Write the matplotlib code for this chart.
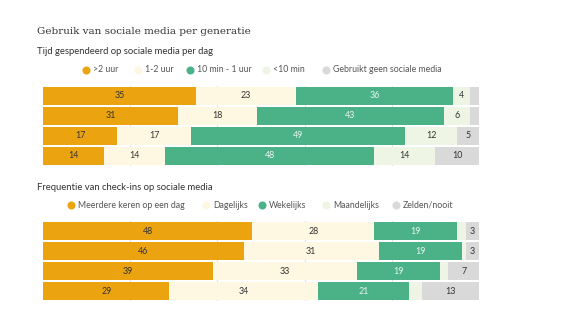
import matplotlib
matplotlib.use("Agg")
import matplotlib.pyplot as plt
from matplotlib.lines import Line2D
import numpy as np

# Time spent on social media per day (rows top -> bottom)
time_labels = [">2 uur", "1-2 uur", "10 min - 1 uur", "<10 min", "Gebruikt geen sociale media"]
time_values = [
    [35, 23, 36, 4, 2],
    [31, 18, 43, 6, 2],
    [17, 17, 49, 12, 5],
    [14, 14, 48, 14, 10],
]
time_shown = [
    [True, True, True, True, False],
    [True, True, True, True, False],
    [True, True, True, True, True],
    [True, True, True, True, True],
]

# Check-in frequency
freq_labels = ["Meerdere keren op een dag", "Dagelijks", "Wekelijks", "Maandelijks", "Zelden/nooit"]
freq_values = [
    [48, 28, 19, 2, 3],
    [46, 31, 19, 1, 3],
    [39, 33, 19, 2, 7],
    [29, 34, 21, 3, 13],
]
freq_shown = [
    [True, True, True, False, True],
    [True, True, True, False, True],
    [True, True, True, False, True],
    [True, True, True, False, True],
]

colors = ["#EBA40F", "#FEF7E2", "#4BB288", "#EEF5E5", "#D9D9D9"]
text_colors = ["#333333", "#333333", "#E8F5EE", "#333333", "#333333"]

plt.rcParams["font.family"] = ["Lato", "DejaVu Sans"]

W, H = 583, 328
fig = plt.figure(figsize=(W / 100, H / 100), dpi=100)


def px_axes(x0, y0, x1, y1):
    return fig.add_axes([x0 / W, 1 - y1 / H, (x1 - x0) / W, (y1 - y0) / H])


def draw_bars(ax, values, shown):
    data = np.array(values, dtype=float)
    n = data.shape[0]
    y = np.arange(n)
    left = np.zeros(n)
    for k in range(data.shape[1]):
        ax.barh(y, data[:, k], left=left, height=0.86, color=colors[k],
                edgecolor="none", zorder=2)
        for i in range(n):
            if shown[i][k]:
                ax.text(left[i] + data[i, k] / 2, y[i], f"{int(data[i, k])}",
                        ha="center", va="center", fontsize=6.4,
                        color=text_colors[k], zorder=3)
        left += data[:, k]
    ax.set_xlim(0, 100)
    ax.set_ylim(n - 0.5, -0.5)
    for gx in [20, 40, 60, 80]:
        ax.axvline(gx, color="#E3E3E3", linewidth=0.8, zorder=1)
    ax.set_xticks([])
    ax.set_yticks([])
    for s in ax.spines.values():
        s.set_visible(False)


def draw_legend(labels, xs, y):
    for lab, x, c in zip(labels, xs, colors):
        fig.add_artist(Line2D([x / W], [1 - y / H], marker="o", markersize=5.8,
                              markerfacecolor=c, markeredgecolor="none",
                              linestyle="none", transform=fig.transFigure))
        fig.text((x + 7) / W, 1 - y / H, lab, ha="left", va="center",
                 fontsize=6.3, color="#555555")


fig.text(37 / W, 1 - 31 / H, "Gebruik van sociale media per generatie",
         fontsize=7.5, family="DejaVu Serif", color="#333333", va="center")
fig.text(37 / W, 1 - 52 / H, "Tijd gespendeerd op sociale media per dag",
         fontsize=6.8, color="#333333", va="center")
draw_legend(time_labels, [86, 138, 190, 266, 326], 70)
ax1 = px_axes(43, 86, 479, 166)
draw_bars(ax1, time_values, time_shown)

fig.text(37 / W, 1 - 188 / H, "Frequentie van check-ins op sociale media",
         fontsize=6.8, color="#333333", va="center")
draw_legend(freq_labels, [71, 206, 262, 326, 396], 205)
ax2 = px_axes(43, 221, 479, 301)
draw_bars(ax2, freq_values, freq_shown)

fig.savefig("out.png", dpi=100)
